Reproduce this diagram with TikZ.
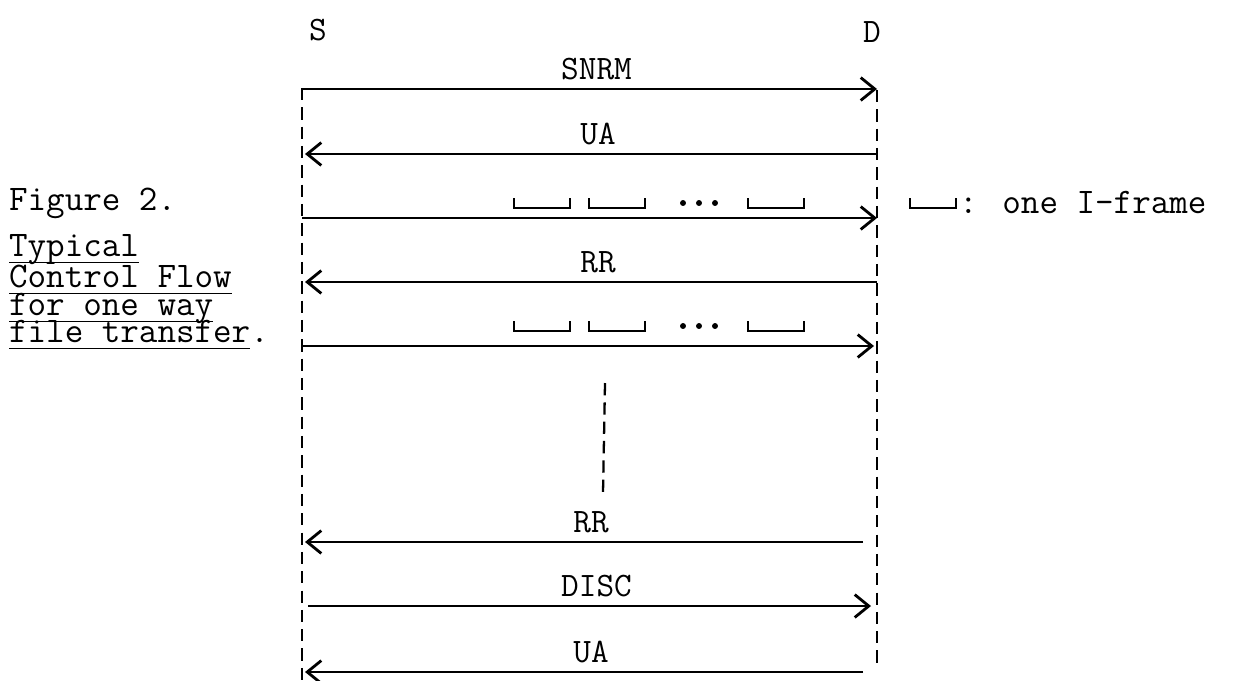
\documentclass[tikz,border=0pt]{standalone}
\usepackage{fontspec}
\usetikzlibrary{arrows.meta}
\newcommand\capfont{\ttfamily\fontsize{20.5}{22}\selectfont}
\newcommand\lblfont{\ttfamily\fontsize{19.5}{21}\selectfont}
% typewriter underline, always at the same depth
\newcommand\uline[1]{\underline{\smash{#1}\rule[-2.4pt]{0pt}{0pt}}}

\begin{document}
\begin{tikzpicture}[x=0.02cm,y=-0.02cm,line width=1.3pt,
  life/.style={dash pattern=on 7pt off 4pt},
  msg/.style={-{Straight Barb[length=8pt,width=13pt,line width=1.6pt]}},
  lbl/.style={above=4.5pt,inner sep=0pt,xshift=0.14cm,font=\lblfont},
  iframe/.style={line width=1.1pt}]
\useasboundingbox (0,0) rectangle (1233,680);

% station names and their dashed time lines
\node[font=\lblfont] (S) at (318,30) {S}; \node[font=\lblfont] (D) at (872,32) {D};
\coordinate (S-top) at (302,88); \coordinate (S-bot) at (302,680);
\coordinate (D-top) at (877,90); \coordinate (D-bot) at (877,668);
\draw[life] (S-top) -- (S-bot); \draw[life] (D-top) -- (D-bot);

% end points of each frame on the two time lines
\foreach \n/\y/\a/\b in {snrm/89/302/877,ua1/154/305/877,if1/218/302/877,rr1/282/305/877,
  if2/346/302/874,rr2/542/305/863,disc/606/308/871,ua2/672/305/863}
  {\coordinate (\n-s) at (\a,\y); \coordinate (\n-d) at (\b,\y);}

\draw[msg] (snrm-s) -- node[lbl] {SNRM} (snrm-d);
\draw[msg] (ua1-d) -- node[lbl] {UA} (ua1-s);
\draw[msg] (if1-s) -- (if1-d);
\draw[msg] (rr1-d) -- node[lbl] {RR} (rr1-s);
\draw[msg] (if2-s) -- (if2-d);
\draw[msg] (rr2-d) -- node[lbl] {RR} (rr2-s);
\draw[msg] (disc-s) -- node[lbl] {DISC} (disc-d);
\draw[msg] (ua2-d) -- node[lbl] {UA} (ua2-s);

% I-frames over the two data transfers
\foreach \y in {208,331} {
  \foreach \x in {514,589,748} \draw[iframe] (\x,\y-10) -- (\x,\y) -- (\x+56,\y) -- (\x+56,\y-10);
  \foreach \x in {683,699,715} \fill (\x,\y-5) circle[radius=1.7pt];
}
\coordinate (gap-a) at (605,383); \coordinate (gap-b) at (603,493);
\draw[life] (gap-a) -- (gap-b);

% legend
\draw[iframe] (910,198) -- (910,208) -- (956,208) -- (956,198);
\node[anchor=base west,inner sep=0pt,font=\capfont] (key) at (958,213) {: one I-frame};

% caption
\node[anchor=base west,inner sep=0pt,font=\capfont] (fig) at (8,210) {Figure 2.};
\node[anchor=base west,inner sep=0pt,font=\capfont] (cap1) at (8,256) {\uline{Typical}};
\node[anchor=base west,inner sep=0pt,font=\capfont] (cap2) at (8,287) {\uline{Control Flow}};
\node[anchor=base west,inner sep=0pt,font=\capfont] (cap3) at (8,315) {\uline{for one way}};
\node[anchor=base west,inner sep=0pt,font=\capfont] (cap4) at (8,342) {\uline{file transfer}.};
\end{tikzpicture}
\end{document}
